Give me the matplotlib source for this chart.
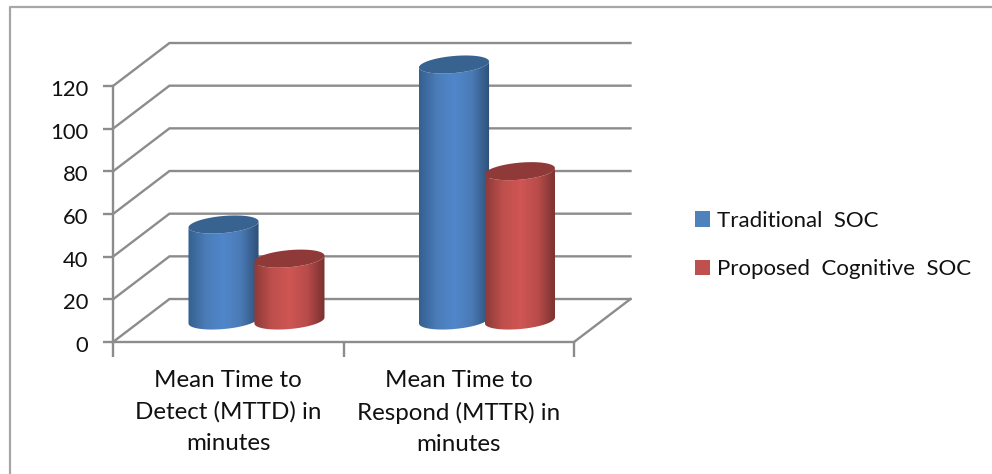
import numpy as np
import matplotlib
matplotlib.use("Agg")
import matplotlib.pyplot as plt
from matplotlib.colors import LinearSegmentedColormap
from matplotlib.lines import Line2D
from matplotlib.patches import Patch, PathPatch, Polygon
from matplotlib.path import Path
from matplotlib.transforms import ScaledTranslation

plt.rcParams['font.family'] = ['Lato', 'DejaVu Sans']

categories = ["Mean Time to\nDetect (MTTD) in\nminutes", "Mean Time to\nRespond (MTTR) in\nminutes"]
traditional = [45, 120]
cognitive = [29, 70]
y_ticks = [0, 20, 40, 60, 80, 100, 120]
series_names = ["Traditional  SOC", "Proposed  Cognitive  SOC"]

W, H = 992, 474
GRID = "#8c8c8c"
DEPTH_X = 0.245  # depth of the box, in category units
DEPTH_Y = 20.15  # depth of the box, in value units
CYL_A = 0.152
CYL_B = 4.0
TILT = 1.4

BLUE = ["#35608f", "#4b7cb8", "#5087cb", "#4a7ab5", "#2d5078"]
RED = ["#8c3b39", "#be4f4c", "#cf5654", "#b84c4a", "#783130"]


def ellipse_pts(cx, v, t):
    return np.column_stack([cx + CYL_A * np.cos(t), v + CYL_B * np.sin(t) + TILT * np.cos(t)])


def draw_cylinder(ax, cx, value, colors, cap, z):
    base = DEPTH_Y / 2
    top = base + value
    low = ellipse_pts(cx, base, np.linspace(np.pi, 2 * np.pi, 40))
    up = ellipse_pts(cx, top, np.linspace(2 * np.pi, np.pi, 40))
    body = np.vstack([low, up])
    cmap = LinearSegmentedColormap.from_list("cyl", colors)
    grad = np.linspace(0, 1, 128).reshape(1, -1)
    im = ax.imshow(grad, cmap=cmap, aspect="auto", zorder=z,
                   extent=(cx - CYL_A, cx + CYL_A, base - CYL_B - 2, top + CYL_B + 2))
    clip = PathPatch(Path(body), transform=ax.transData, fc="none", ec="none", clip_on=False)
    ax.add_patch(clip)
    im.set_clip_path(clip)
    im.set_clip_box(fig.bbox)  # the tall cylinder pokes out above the axes
    cap_pts = ellipse_pts(cx, top, np.linspace(0, 2 * np.pi, 80))
    ax.add_patch(Polygon(cap_pts, closed=True, fc=cap, ec="none", zorder=z + 0.1, clip_on=False))


fig = plt.figure(figsize=(W / 100, H / 100), dpi=100)
ax = fig.add_axes([113 / W, 1 - 342 / H, (574 - 113) / W, (342 - 86) / H])
ax.patch.set_visible(False)

# outer frame of the pasted picture, open on the right
fig.add_artist(Line2D([10 / W, 10 / W, 1], [0, 1 - 7 / H, 1 - 7 / H],
                      color="#a6a6a6", lw=1.6))

# walls and floor
for v in y_ticks:
    ax.plot([0, DEPTH_X, 2 + DEPTH_X], [v, v + DEPTH_Y, v + DEPTH_Y], color=GRID, lw=1.7,
            clip_on=False, zorder=1, solid_joinstyle="miter")
ax.plot([2, 2 + DEPTH_X], [0, DEPTH_Y], color=GRID, lw=1.7, clip_on=False, zorder=1)

for i in range(len(categories)):
    mid = i + 0.5 + DEPTH_X / 2
    draw_cylinder(ax, mid - 0.143, traditional[i], BLUE, "#38628f", 3)
    draw_cylinder(ax, mid + 0.143, cognitive[i], RED, "#8f3a38", 4)

ax.set_xlim(0, 2)
ax.set_ylim(0, 120)
ax.set_xticks([0, 1, 2])
ax.set_xticklabels([])
ax.set_xticks([0.5, 1.5], categories, minor=True)
ax.set_yticks(y_ticks)
ax.tick_params(axis="y", length=7, width=1.7, color=GRID, labelsize=15.8, pad=11, labelcolor="#111111")
ax.tick_params(axis="x", which="major", length=11, width=1.7, color=GRID)
ax.tick_params(axis="x", which="minor", length=0, pad=20.5, labelsize=17.4, labelcolor="#111111")
for lab in ax.get_xticklabels(minor=True):
    lab.set_linespacing(1.57)
# y labels sit a touch below their ticks in the reference
down = ScaledTranslation(0, -2 / 100, fig.dpi_scale_trans)
for lab in ax.get_yticklabels():
    lab.set_transform(lab.get_transform() + down)
for side in ["top", "right"]:
    ax.spines[side].set_visible(False)
for side in ["left", "bottom"]:
    ax.spines[side].set_color(GRID)
    ax.spines[side].set_linewidth(1.7)

handles = [Patch(fc="#4f81bd", ec="none"), Patch(fc="#c0504d", ec="none")]
fig.legend(handles, series_names, loc="center left", bbox_to_anchor=(686 / W, 1 - 245 / H),
           frameon=False, fontsize=16, handlelength=0.68, handleheight=0.68,
           handletextpad=0.32, labelspacing=1.27, borderaxespad=0, labelcolor="#111111")

fig.savefig("out.png", dpi=100)
